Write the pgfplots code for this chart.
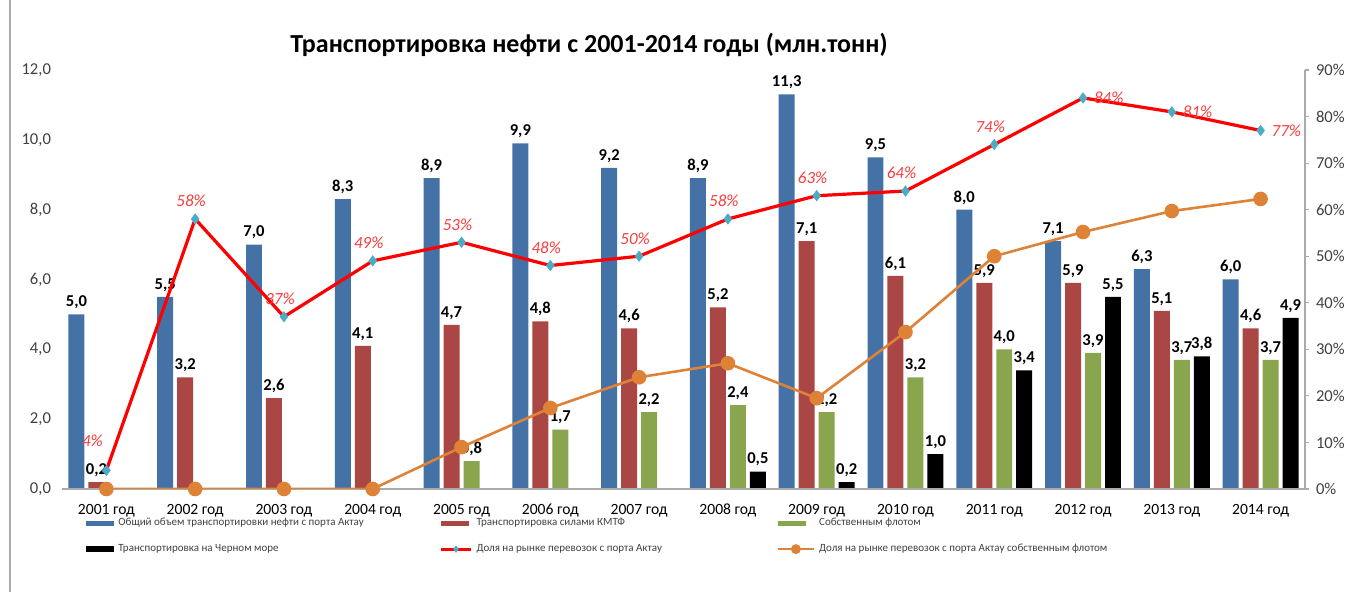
\documentclass[border=0pt]{standalone}
\usepackage{pgfplots}
\pgfplotsset{compat=1.18}
\usepackage{pgfplotstable}
\usepackage{fontspec}
\setmainfont{Carlito}
\definecolor{blueBar}{RGB}{68,114,167}
\definecolor{redBar}{RGB}{170,70,67}
\definecolor{greenBar}{RGB}{137,165,78}
\definecolor{orangeL}{RGB}{222,130,55}
\definecolor{tealM}{RGB}{75,172,198}
\definecolor{redL}{RGB}{255,0,0}
\definecolor{redLab}{RGB}{250,60,60}
\definecolor{tickgray}{RGB}{64,64,64}
\definecolor{axgray}{RGB}{170,170,170}
\pgfplotstableread{
x blue red green black share own
0 5.0 0.2 nan nan 4 0
1 5.5 3.2 nan nan 58 0
2 7.0 2.6 nan nan 37 0
3 8.3 4.1 nan nan 49 0
4 8.9 4.7 0.8 nan 53 9
5 9.9 4.8 1.7 nan 48 17.4
6 9.2 4.6 2.2 nan 50 24
7 8.9 5.2 2.4 0.5 58 27
8 11.3 7.1 2.2 0.2 63 19.5
9 9.5 6.1 3.2 1.0 64 33.7
10 8.0 5.9 4.0 3.4 74 50
11 7.1 5.9 3.9 5.5 84 55.2
12 6.3 5.1 3.7 3.8 81 59.7
13 6.0 4.6 3.7 4.9 77 62.3
}\data
\begin{document}
\begin{tikzpicture}
\useasboundingbox (-31pt,-51.5pt) rectangle (642pt,244.5pt);
\draw[axgray, line width=0.6pt] (-26pt,-51.5pt) -- (-26pt,244.5pt);
\begin{axis}[
  scale only axis, width=621.5pt, height=209.5pt,
  xmin=-0.5, xmax=13.5, ymin=0, ymax=12,
  axis line style={draw=none},
  xtick={0,...,13},
  xticklabels={2001 год,2002 год,2003 год,2004 год,2005 год,2006 год,2007 год,2008 год,2009 год,2010 год,2011 год,2012 год,2013 год,2014 год},
  x tick label style={font=\fontsize{7.8}{8}\selectfont, text=black, text height=5.5pt, text depth=1.8pt, yshift=-3.5pt},
  ytick={0,2,...,12},
  ytick pos=left, xtick pos=bottom,
  major tick length=0pt,
  yticklabel style={font=\fontsize{8.3}{9}\selectfont, text=tickgray, xshift=-2pt, /pgf/number format/.cd, fixed, fixed zerofill, precision=1, use comma, assume math mode=true},
  ybar, bar width=0.18,
  nodes near coords={\pgfmathprintnumber[assume math mode=true,fixed,fixed zerofill,precision=1,use comma]{\pgfplotspointmeta}},
  every node near coord/.append style={font=\bfseries\fontsize{8.3}{9}\selectfont, text=black, inner sep=1.5pt, yshift=1pt},
]
\addplot[fill=blueBar, draw=none, bar shift=-0.3375] table[x=x,y=blue]{\data};
\addplot[fill=redBar, draw=none, bar shift=-0.1125] table[x=x,y=red]{\data};
\addplot[fill=greenBar, draw=none, bar shift=0.1125] table[x=x,y=green]{\data};
\addplot[fill=black, draw=none, bar shift=0.3375] table[x=x,y=black]{\data};
\end{axis}
\draw[axgray, line width=0.6pt] (0pt,0pt) -- (621.5pt,0pt);
\draw[axgray, line width=0.6pt] (621.5pt,0pt) -- (621.5pt,209.5pt);
\begin{axis}[
  scale only axis, width=621.5pt, height=209.5pt,
  xmin=-0.5, xmax=13.5, ymin=0, ymax=90,
  axis line style={draw=none},
  xtick=\empty,
  ytick={0,10,...,90},
  ytick pos=right, yticklabel pos=right,
  tick align=outside, major tick length=2pt,
  y tick style={axgray, line width=0.6pt},
  yticklabel={\pgfmathprintnumber[assume math mode=true]{\tick}\%},
  yticklabel style={font=\fontsize{8.3}{9}\selectfont, text=tickgray},
  legend columns=3,
  legend style={at={(0,0)}, anchor=north west, xshift=9pt, yshift=-10.5pt, draw=none, fill=none,
    font=\fontsize{5.5}{6}\selectfont, text=tickgray, cells={anchor=west}, row sep=3.5pt},
]
\addlegendimage{fill=blueBar, draw=none, legend image code/.code={\fill (0pt,-1.4pt) rectangle (14pt,1.4pt);}}
\addlegendentry{\makebox[158.5pt][l]{Общий объем транспортировки  нефти с порта Актау}}
\addlegendimage{fill=redBar, draw=none, legend image code/.code={\fill (0pt,-1.4pt) rectangle (14pt,1.4pt);}}
\addlegendentry{\makebox[148pt][l]{Транспортировка силами КМТФ}}
\addlegendimage{fill=greenBar, draw=none, legend image code/.code={\fill (0pt,-1.4pt) rectangle (14pt,1.4pt);}}
\addlegendentry{Собственным флотом}
\addlegendimage{fill=black, draw=none, legend image code/.code={\fill (0pt,-1.4pt) rectangle (14pt,1.4pt);}}
\addlegendentry{Транспортировка на Черном море}
\addplot[redL, line width=1.6pt, mark=diamond*, mark size=2.6pt, mark options={fill=tealM, draw=tealM, line width=0.3pt},
  legend image code/.code={\draw[mark repeat=2,mark phase=2,mark size=1.6pt] plot coordinates {(0pt,0pt) (7.5pt,0pt) (15pt,0pt)};}]
  table[x=x,y=share]{\data};
\addlegendentry{Доля на рынке перевозок  с порта Актау}
\addplot[orangeL, line width=1.3pt, mark=*, mark size=3pt, mark options={fill=orangeL, draw=orangeL},
  legend image code/.code={\draw[mark repeat=2,mark phase=2,mark size=1.8pt] plot coordinates {(0pt,0pt) (9pt,0pt) (18pt,0pt)};}]
  table[x=x,y=own]{\data};
\addlegendentry{Доля на рынке перевозок  с порта Актау собственным флотом}
% labels of the share line
\addplot[draw=none, forget plot, restrict x to domain=0:0,
  nodes near coords={\pgfmathprintnumber[assume math mode=true,fixed,precision=0]{\pgfplotspointmeta}\%},
  every node near coord/.append style={font=\itshape\fontsize{8.5}{9}\selectfont, text=redLab, anchor=center, xshift=-7pt, yshift=15pt}]
  table[x=x,y=share]{\data};
\addplot[draw=none, forget plot, restrict x to domain=1:10,
  nodes near coords={\pgfmathprintnumber[assume math mode=true,fixed,precision=0]{\pgfplotspointmeta}\%},
  every node near coord/.append style={font=\itshape\fontsize{8.5}{9}\selectfont, text=redLab, anchor=south, xshift=-2pt, yshift=2.5pt}]
  table[x=x,y=share]{\data};
\addplot[draw=none, forget plot, restrict x to domain=11:13,
  nodes near coords={\pgfmathprintnumber[assume math mode=true,fixed,precision=0]{\pgfplotspointmeta}\%},
  every node near coord/.append style={font=\itshape\fontsize{8.5}{9}\selectfont, text=redLab, anchor=west, xshift=2pt, yshift=0pt}]
  table[x=x,y=share]{\data};
\end{axis}
\node[font=\bfseries\fontsize{13}{15}\selectfont, text=black] at (263.5pt,222pt) {Транспортировка нефти с 2001-2014 годы (млн.тонн)};
\end{tikzpicture}
\end{document}
